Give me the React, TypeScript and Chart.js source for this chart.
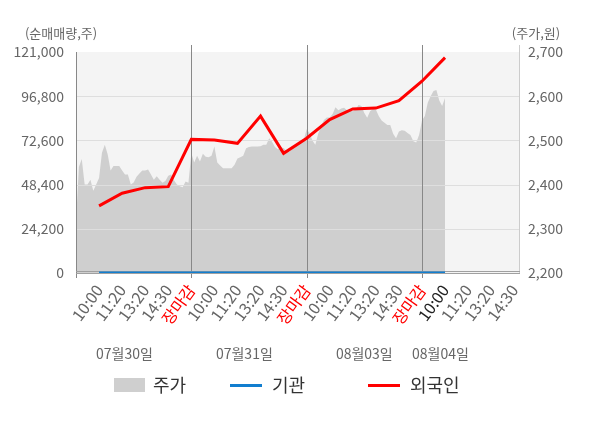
import React, { useEffect, useRef } from 'react';
import { Chart, registerables } from 'chart.js';

Chart.register(...registerables);

// ---- data ----
const timeLabels = ['10:00', '11:20', '13:20', '14:30', '장마감'];
const dateLabels = ['07월30일', '07월31일', '08월03일', '08월04일'];
const leftTicks = [0, 24200, 48400, 72600, 96800, 121000];
const rightTicks = [2200, 2300, 2400, 2500, 2600, 2700];

// intraday price (주가), sampled evenly through each session
const priceDay1 = [
  2315, 2440, 2458, 2400, 2400, 2411, 2386, 2400, 2415, 2472,
  2490, 2468, 2432, 2442, 2442, 2442, 2432, 2423, 2423, 2400,
  2405, 2418, 2425, 2432, 2432, 2434, 2423, 2411, 2419, 2411,
  2404, 2408, 2420, 2423, 2410, 2400, 2396, 2394, 2407, 2404,
];
const priceDay2 = [
  2471, 2450, 2465, 2452, 2470, 2463, 2462, 2465, 2486, 2450,
  2443, 2437, 2437, 2437, 2437, 2445, 2459, 2462, 2465, 2482,
  2485, 2486, 2486, 2486, 2487, 2490, 2490, 2505, 2497, 2485,
  2480, 2484, 2483, 2476, 2475, 2480, 2488, 2492, 2495, 2501,
];
const priceDay3 = [
  2525, 2517, 2500, 2490, 2515, 2532, 2546, 2552, 2552, 2560,
  2575, 2568, 2572, 2574, 2568, 2568, 2566, 2570, 2580, 2578,
  2562, 2551, 2566, 2571, 2570, 2555, 2545, 2540, 2535, 2535,
  2515, 2505, 2520, 2523, 2522, 2517, 2512, 2498, 2495, 2512,
];
const priceDay4 = [2545, 2555, 2585, 2600, 2612, 2614, 2590, 2578, 2596];

// cumulative net buying at each labelled time (10:00 day1 ... 10:00 day4)
const foreignNet = [
  36750, 43680, 46740, 47290, 73160,
  72780, 70980, 85890, 65520, 73800,
  84000, 89800, 90300, 94300, 105000,
  117940,
];
const institutionNet = [0, 0, 0, 0, 0, 0, 0, 0, 0, 0, 0, 0, 0, 0, 0, 0];

// ---- helpers ----
const SLOTS_PER_DAY = timeLabels.length;
const SUB_STEPS = 8;
const priceDays = [priceDay1, priceDay2, priceDay3, priceDay4];
const pricePoints = priceDays.flatMap((day, d) =>
  day.map((v, i) => ({ x: d * SLOTS_PER_DAY + i / SUB_STEPS, y: v }))
);
const flowPoints = (arr: number[]) => arr.map((v, i) => ({ x: i + 1, y: v }));
const tickValues = Array.from({ length: 19 }, (_, i) => i + 1);
const fmt = (v: number) => Number(v).toLocaleString('en-US');
const FONT = "'Noto Sans CJK KR', 'Noto Sans', sans-serif";

const GRAY_AREA = '#cfcfcf';
const BLUE = '#127ecf';
const RED = '#ff0000';

const decorPlugin = {
  id: 'decor',
  beforeDraw(chart: any) {
    const { ctx, chartArea: a } = chart;
    ctx.save();
    ctx.fillStyle = '#f4f4f4';
    ctx.fillRect(a.left, a.top, a.right - a.left, a.bottom - a.top);
    ctx.restore();
  },
  afterDatasetDraw(chart: any, args: any) {
    if (args.index !== 0) return;
    const { ctx, chartArea: a, scales } = chart;
    ctx.save();
    ctx.lineWidth = 1;
    // horizontal grid lines
    ctx.strokeStyle = '#dedede';
    leftTicks.forEach((t) => {
      if (t === leftTicks[leftTicks.length - 1]) return;
      const y = Math.round(scales.y.getPixelForValue(t)) + 0.5;
      ctx.beginPath();
      ctx.moveTo(a.left, y);
      ctx.lineTo(a.right, y);
      ctx.stroke();
    });
    // day separators
    ctx.strokeStyle = '#888888';
    for (let d = 1; d < priceDays.length; d++) {
      const x = Math.round(scales.x.getPixelForValue(d * SLOTS_PER_DAY)) + 0.5;
      ctx.beginPath();
      ctx.moveTo(x, a.top - 7);
      ctx.lineTo(x, a.bottom + 5);
      ctx.stroke();
    }
    // left axis line
    const lx = Math.round(a.left) + 0.5;
    ctx.beginPath();
    ctx.moveTo(lx, a.top);
    ctx.lineTo(lx, a.bottom + 5);
    ctx.stroke();
    // right axis line
    ctx.strokeStyle = '#cccccc';
    const rx = Math.round(a.right) - 0.5;
    ctx.beginPath();
    ctx.moveTo(rx, a.top - 7);
    ctx.lineTo(rx, a.bottom);
    ctx.stroke();
    // bottom double line
    ctx.strokeStyle = '#a0a0a0';
    const by = Math.round(a.bottom);
    [by - 1.5, by + 0.5].forEach((y) => {
      ctx.beginPath();
      ctx.moveTo(a.left, y);
      ctx.lineTo(a.right, y);
      ctx.stroke();
    });
    ctx.restore();
  },
  afterDraw(chart: any) {
    const { ctx, scales } = chart;
    ctx.save();
    // axis titles
    ctx.font = `13px ${FONT}`;
    ctx.fillStyle = '#666666';
    ctx.textBaseline = 'middle';
    ctx.textAlign = 'center';
    ctx.fillText('(순매매량,주)', 61, 33);
    ctx.fillText('(주가,원)', 536, 33);
    // date labels
    const datePos = [2.1, 7.3, 12.5, 15.8];
    ctx.font = `14px ${FONT}`;
    dateLabels.forEach((lbl, i) => {
      ctx.fillText(lbl, scales.x.getPixelForValue(datePos[i]), 354);
    });
    // legend
    const ly = 385;
    ctx.font = `18px ${FONT}`;
    ctx.textAlign = 'left';
    ctx.fillStyle = GRAY_AREA;
    ctx.fillRect(114, ly - 7, 31, 14);
    ctx.fillStyle = '#333333';
    ctx.fillText('주가', 153, ly);
    ctx.lineWidth = 3;
    ctx.strokeStyle = BLUE;
    ctx.beginPath();
    ctx.moveTo(230, ly + 0.5);
    ctx.lineTo(262, ly + 0.5);
    ctx.stroke();
    ctx.fillText('기관', 272, ly);
    ctx.strokeStyle = RED;
    ctx.beginPath();
    ctx.moveTo(368, ly + 0.5);
    ctx.lineTo(400, ly + 0.5);
    ctx.stroke();
    ctx.fillText('외국인', 410, ly);
    ctx.restore();
  },
};

export default function App() {
  const ref = useRef<HTMLCanvasElement | null>(null);

  useEffect(() => {
    if (!ref.current) return;
    const chart = new Chart(ref.current, {
      type: 'line',
      data: {
        datasets: [
          {
            label: '주가',
            data: pricePoints,
            yAxisID: 'y1',
            borderWidth: 0,
            borderColor: GRAY_AREA,
            backgroundColor: GRAY_AREA,
            fill: 'start',
            pointRadius: 0,
            tension: 0,
            order: 3,
          },
          {
            label: '기관',
            data: flowPoints(institutionNet),
            yAxisID: 'y',
            borderColor: BLUE,
            borderWidth: 3,
            pointRadius: 0,
            fill: false,
            order: 2,
          },
          {
            label: '외국인',
            data: flowPoints(foreignNet),
            yAxisID: 'y',
            borderColor: RED,
            borderWidth: 3,
            pointRadius: 0,
            fill: false,
            tension: 0,
            order: 1,
          },
        ],
      },
      options: {
        responsive: false,
        maintainAspectRatio: false,
        animation: false,
        layout: { padding: { top: 52, left: 0, right: 0, bottom: 0 } },
        plugins: { legend: { display: false }, tooltip: { enabled: false } },
        scales: {
          x: {
            type: 'linear',
            min: 0,
            max: 19.25,
            grid: { display: false, drawTicks: false },
            border: { display: false },
            afterBuildTicks: (s: any) => {
              s.ticks = tickValues.map((v) => ({ value: v }));
            },
            afterFit: (s: any) => {
              s.height = 155;
            },
            ticks: {
              autoSkip: false,
              maxRotation: 54,
              minRotation: 54,
              padding: 9,
              font: { family: FONT, size: 16, lineHeight: 1.0 },
              color: (c: any) => {
                const v = c.tick.value;
                if (v % SLOTS_PER_DAY === 0) return '#ff0000';
                if (v === foreignNet.length) return '#222222';
                return '#666666';
              },
              callback: (v: any) => timeLabels[(Number(v) - 1) % SLOTS_PER_DAY],
            },
          },
          y: {
            position: 'left',
            min: 0,
            max: 121000,
            grid: { display: false, drawTicks: false },
            border: { display: false },
            afterBuildTicks: (s: any) => {
              s.ticks = leftTicks.map((v) => ({ value: v }));
            },
            afterFit: (s: any) => {
              s.width = 76;
            },
            ticks: {
              padding: 12,
              color: '#666666',
              font: { family: FONT, size: 14 },
              callback: (v: any) => fmt(v),
            },
          },
          y1: {
            position: 'right',
            min: 2200,
            max: 2700,
            grid: { display: false, drawTicks: false },
            border: { display: false },
            afterBuildTicks: (s: any) => {
              s.ticks = rightTicks.map((v) => ({ value: v }));
            },
            afterFit: (s: any) => {
              s.width = 80;
            },
            ticks: {
              padding: 8,
              color: '#666666',
              font: { family: FONT, size: 14 },
              callback: (v: any) => fmt(v),
            },
          },
        },
      },
      plugins: [decorPlugin],
    } as any);
    return () => chart.destroy();
  }, []);

  return (
    <div style={{ position: 'fixed', left: 0, top: 0, width: 600, height: 428, background: '#fff' }}>
      <canvas ref={ref} width={600} height={428} style={{ width: 600, height: 428 }} />
    </div>
  );
}
